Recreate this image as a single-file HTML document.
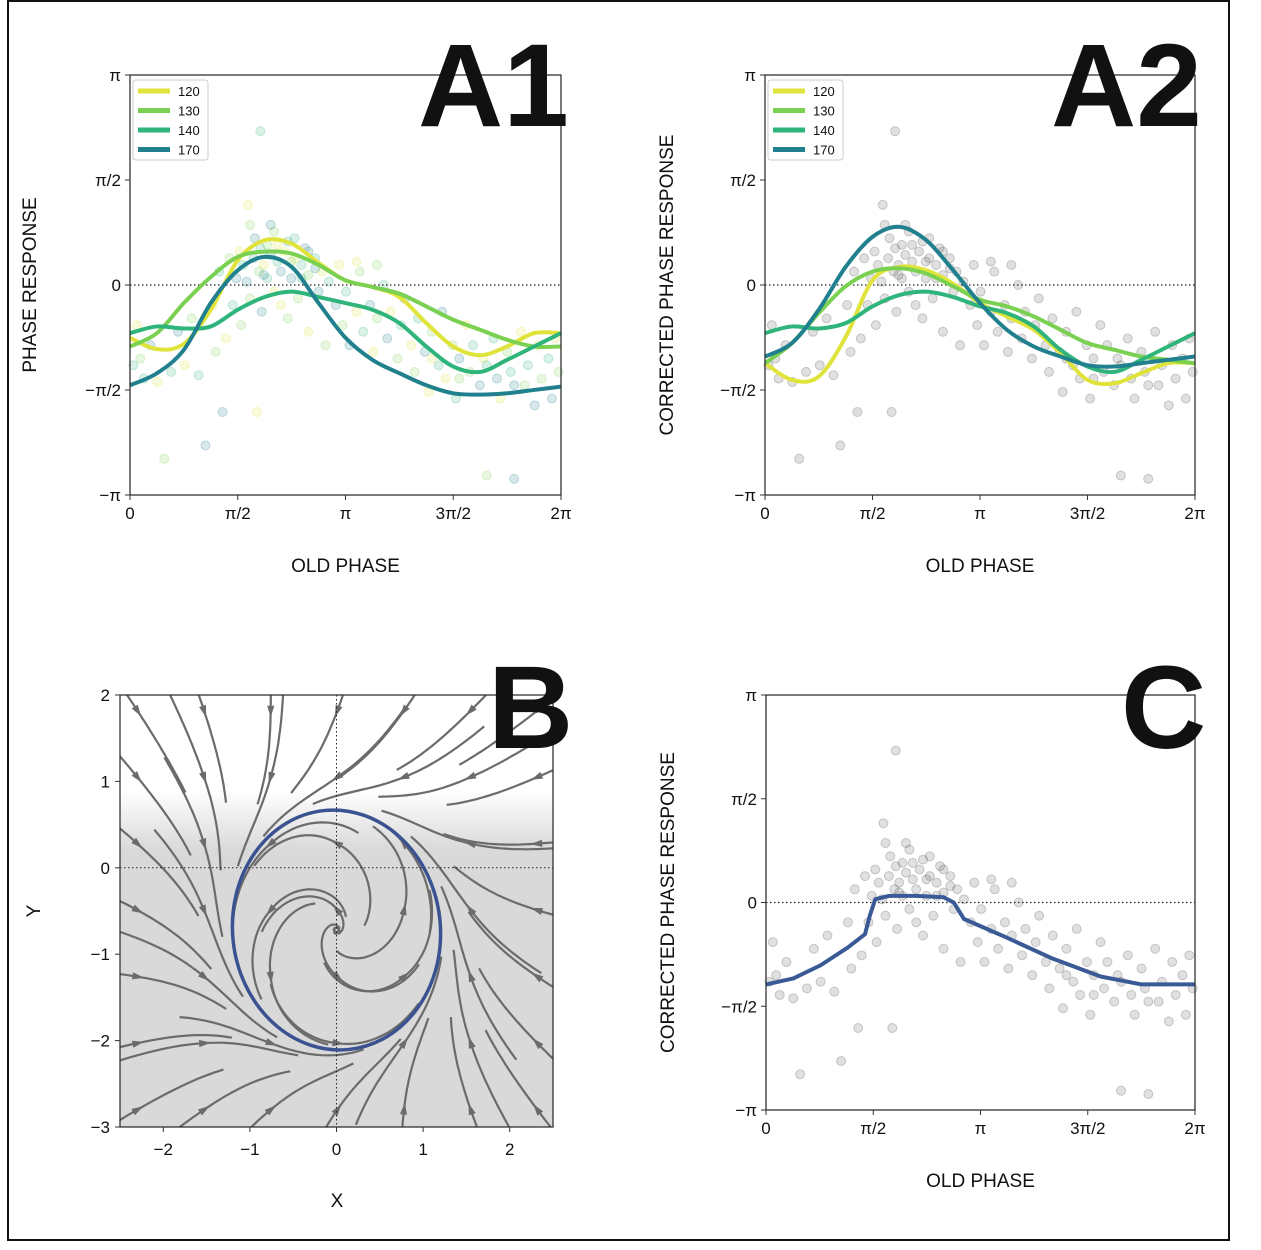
<!DOCTYPE html>
<html><head><meta charset="utf-8"><style>
body{margin:0;background:#fff;}
svg text{font-family:"Liberation Sans",sans-serif;fill:#111;}
</style></head><body>
<svg id="fig" width="1261" height="1245" viewBox="0 0 1261 1245" xmlns="http://www.w3.org/2000/svg">
<defs>
<clipPath id="clipB"><rect x="120" y="695" width="433" height="432"/></clipPath>
<linearGradient id="gB" x1="0" y1="0" x2="0" y2="1"><stop offset="0" stop-color="#fff"/><stop offset="1" stop-color="#d9d9d9"/></linearGradient>
</defs>
<rect x="8" y="1" width="1221" height="1239" fill="none" stroke="#111" stroke-width="2"/>
<g id="root"></g>
</svg>
<script>
const K = [0,1,2,3,4,5,6,7,8,9,10,11,12,13,14,15,16]; // x grid in units of pi/8
const a1_120 = [-0.79,-0.96,-0.88,-0.37,0.37,0.67,0.62,0.33,0.07,-0.03,-0.18,-0.57,-0.92,-1.05,-0.92,-0.72,-0.72];
const a1_130 = [-0.92,-0.72,-0.27,0.12,0.42,0.50,0.47,0.30,0.07,-0.03,-0.13,-0.32,-0.52,-0.67,-0.82,-0.92,-0.92];
const a1_140 = [-0.72,-0.62,-0.65,-0.62,-0.37,-0.18,-0.10,-0.18,-0.27,-0.37,-0.57,-0.92,-1.22,-1.30,-1.12,-0.92,-0.72];
const a1_170 = [-1.50,-1.32,-0.97,-0.27,0.22,0.42,0.27,-0.27,-0.79,-1.12,-1.32,-1.50,-1.62,-1.64,-1.62,-1.57,-1.52];
const a2_120 = [-1.17,-1.42,-1.37,-0.78,0.07,0.27,0.22,0.02,-0.27,-0.47,-0.67,-1.02,-1.42,-1.47,-1.32,-1.17,-1.17];
const a2_130 = [-1.17,-0.87,-0.42,-0.02,0.20,0.25,0.17,-0.02,-0.22,-0.32,-0.47,-0.67,-0.87,-0.97,-1.07,-1.12,-1.17];
const a2_140 = [-0.72,-0.62,-0.65,-0.57,-0.32,-0.15,-0.10,-0.18,-0.32,-0.42,-0.62,-0.97,-1.22,-1.30,-1.12,-0.92,-0.72];
const a2_170 = [-1.07,-0.87,-0.37,0.27,0.72,0.87,0.67,0.22,-0.27,-0.67,-0.92,-1.07,-1.20,-1.22,-1.17,-1.12,-1.07];
const cX = [0,0.4,0.8,1.2,1.45,1.52,1.6,1.8,2.2,2.6,2.75,2.9,3.5,4.2,4.9,5.5,6.28];
const cY = [-1.24,-1.15,-0.95,-0.68,-0.48,-0.2,0.05,0.1,0.1,0.08,0,-0.25,-0.52,-0.85,-1.12,-1.24,-1.24];
const seriesNames = ["120","130","140","170"];
const seriesColors = ["#dfe33a","#7ad151","#2fb47c","#21808d"];
const pts = [[0.1,-0.6],[0.15,-1.1],[0.2,-1.4],[0.3,-0.9],[0.4,-1.45],[0.5,-2.6],[0.6,-1.3],[0.7,-0.7],[0.8,-1.2],[0.9,-0.5],[1.0,-1.35],[1.1,-2.4],[1.2,-0.3],[1.25,-1.0],[1.3,0.2],[1.35,-1.9],[1.4,-0.8],[1.45,0.4],[1.5,-0.3],[1.55,0.1],[1.6,0.5],[1.62,-0.6],[1.65,0.3],[1.7,0.05],[1.72,1.2],[1.75,-0.2],[1.8,0.4],[1.82,0.7],[1.85,-1.9],[1.88,0.2],[1.9,0.55],[1.92,-0.4],[1.95,0.3],[2.0,0.6],[2.0,0.1],[2.05,0.45],[2.1,-0.1],[2.1,0.8],[2.15,0.35],[2.2,0.2],[2.25,0.5],[2.3,-0.5],[2.3,0.65],[2.35,0.1],[2.4,0.4],[2.45,-0.2],[2.5,0.3],[2.55,0.55],[2.6,-0.7],[2.6,0.15],[2.7,0.4],[2.75,-0.1],[2.8,0.2],[2.85,-0.9],[2.9,0.05],[3.0,-0.3],[3.05,0.3],[3.1,-0.6],[3.15,-0.1],[3.2,-0.9],[3.3,-0.4],[3.35,0.2],[3.4,-0.7],[3.5,-0.3],[3.55,-1.0],[3.6,-0.5],[3.7,0.0],[3.75,-0.8],[3.8,-0.4],[3.9,-1.1],[3.95,-0.6],[4.0,-0.2],[4.1,-0.9],[4.15,-1.3],[4.2,-0.5],[4.3,-1.0],[4.35,-1.6],[4.4,-0.7],[4.5,-1.2],[4.55,-0.4],[4.6,-1.4],[4.7,-0.9],[4.75,-1.7],[4.8,-1.1],[4.9,-0.6],[4.95,-1.3],[5.0,-0.9],[5.1,-1.5],[5.15,-1.1],[5.2,-2.85],[5.3,-0.8],[5.35,-1.4],[5.4,-1.7],[5.5,-1.0],[5.55,-1.3],[5.6,-2.9],[5.7,-0.7],[5.75,-1.5],[5.8,-1.2],[5.9,-1.8],[5.95,-0.9],[6.0,-1.4],[6.1,-1.1],[6.15,-1.7],[6.2,-0.8],[6.25,-1.3],[1.9,2.3],[2.05,0.9],[2.2,-0.3],[1.75,0.9],[2.4,0.7],[2.6,0.5],[3.3,0.35],[3.6,0.3],[0.05,-1.2],[1.95,0.15],[2.15,0.6],[2.35,0.35],[2.5,0.1],[2.7,0.25],[4.4,-1.1],[4.8,-1.4],[5.2,-1.2],[5.6,-1.5]];
const phaseTicks = ["0","π/2","π","3π/2","2π"];
const yPhaseTicks = ["−π","−π/2","0","π/2","π"];
const bXTicks = [-2,-1,0,1,2];
const bYTicks = [-3,-2,-1,0,1,2];

const NS="http://www.w3.org/2000/svg";
const root=document.getElementById('root');
function mk(tag,attrs,parent){const e=document.createElementNS(NS,tag);for(const k in attrs)e.setAttribute(k,attrs[k]);(parent||root).appendChild(e);return e;}
function txt(s,x,y,attrs,parent){const e=mk('text',Object.assign({x:x,y:y},attrs),parent);e.textContent=s;return e;}
function spline(P){let d=`M${P[0][0]},${P[0][1]}`;for(let i=0;i<P.length-1;i++){const p0=P[Math.max(i-1,0)],p1=P[i],p2=P[i+1],p3=P[Math.min(i+2,P.length-1)];d+=` C${p1[0]+(p2[0]-p0[0])/6},${p1[1]+(p2[1]-p0[1])/6} ${p2[0]-(p3[0]-p1[0])/6},${p2[1]-(p3[1]-p1[1])/6} ${p2[0]},${p2[1]}`;}return d;}
const PI=Math.PI;

function phasePanel(id,x0,x1,y0,y1,ytitle,series,scatterMode,legend){
  const g=mk('g',{});
  
  
  const sx=v=>x0+(v/(2*PI))*(x1-x0), sy=v=>y0+(PI-v)/(2*PI)*(y1-y0);
  pts.forEach((p,i)=>{
    const c=mk('circle',{cx:sx(p[0]),cy:sy(p[1]),r:4.5,fill:scatterMode==='color'?seriesColors[i%4]:'#555','fill-opacity':0.18,stroke:scatterMode==='color'?seriesColors[i%4]:'#444','stroke-opacity':0.25},g);
    
    
  });
  const z=mk('line',{x1:x0,x2:x1,y1:sy(0),y2:sy(0),stroke:'#222','stroke-dasharray':'1.5,2.5','stroke-width':1.2},g);
  
  
  series.forEach((s,j)=>{
    const P=s.x.map((xv,i)=>[sx(xv),sy(s.y[i])]);
    const p=mk('path',{d:s.linear?'M'+P.map(q=>q.join(',')).join(' L'):spline(P),fill:'none',stroke:s.color,'stroke-width':4,'stroke-linejoin':'round'},g);
    
    
  });
  const fr=mk('rect',{x:x0,y:y0,width:x1-x0,height:y1-y0,fill:'none',stroke:'#333','stroke-width':1.3},g);
  
  
  phaseTicks.forEach((t,i)=>{const x=x0+i*(x1-x0)/4;mk('line',{x1:x,x2:x,y1:y1,y2:y1+5,stroke:'#333'},g);const e=txt(t,x,y1+24,{'font-size':17,'text-anchor':'middle'},g);});
  yPhaseTicks.forEach((t,i)=>{const y=y1-i*(y1-y0)/4;mk('line',{x1:x0-5,x2:x0,y1:y,y2:y,stroke:'#333'},g);const e=txt(t,x0-9,y+6,{'font-size':17,'text-anchor':'end'},g);});
  const xt=txt('OLD PHASE',(x0+x1)/2,y1+77,{'font-size':19,'text-anchor':'middle'},g);
  
  
  const yc=(y0+y1)/2, yx=x0-(id==='A1'?94:92);
  const yt=txt(ytitle,yx,yc,{'font-size':19,'text-anchor':'middle',transform:`rotate(-90 ${yx} ${yc})`},g);
  
  
  if(legend){
    const lg=mk('g',{},g);
    
    
    mk('rect',{x:x0+3,y:y0+5,width:75,height:80,fill:'#fff','fill-opacity':0.85,stroke:'#ccc',rx:3},lg);
    seriesNames.forEach((n,i)=>{const y=y0+16+i*19.5;const e=mk('g',{},lg);mk('line',{x1:x0+8,x2:x0+40,y1:y,y2:y,stroke:seriesColors[i],'stroke-width':5},e);txt(n,x0+48,y+5,{'font-size':13},e);});
  }
}
function mkSeries(arrs){return arrs.map((a,i)=>({name:'curve-'+seriesNames[i],x:K.map(k=>k*PI/8),y:a,color:seriesColors[i]}));}
phasePanel('A1',130,561,75,495,'PHASE RESPONSE',mkSeries([a1_120,a1_130,a1_140,a1_170]),'color',true);
phasePanel('A2',765,1195,75,495,'CORRECTED PHASE RESPONSE',mkSeries([a2_120,a2_130,a2_140,a2_170]),'gray',true);
phasePanel('C',766,1195,695,1110,'CORRECTED PHASE RESPONSE',[{name:'model-curve',x:cX,y:cY,color:'#3a5a96',linear:true}],'gray',false);

// Panel B
(function(){
  const x0=120,x1=553,y0=695,y1=1127;
  const sx=v=>x0+(v+2.5)/5*(x1-x0), sy=v=>y0+(2-v)/5*(y1-y0);
  const g=mk('g',{});
  
  
  const bg=mk('rect',{x:x0,y:sy(0.9),width:x1-x0,height:sy(0.2)-sy(0.9),fill:'url(#gB)'},g);
  
  
  mk('rect',{x:x0,y:sy(0.2),width:x1-x0,height:y1-sy(0.2),fill:'#d9d9d9'},g);
  const cx=0,cy=-0.72,rx=1.2,ry=1.39;
  function f(x,y){const u=(x-cx)/rx,v=(y-cy)/ry,r2=u*u+v*v;return [(u*(1-r2)-v)*rx,(v*(1-r2)+u)*ry];}
  const sg=mk('g',{'clip-path':'url(#clipB)'},g);
  
  
  for(let i=0;i<7;i++)for(let j=0;j<7;j++){
    const X=-2.3+i*0.77,Y=-2.8+j*0.77;
    const trace=dir=>{let x=X,y=Y,P=[];for(let s=0;s<22;s++){const d=f(x,y);const m=Math.hypot(d[0],d[1])||1;x+=dir*0.05*d[0]/m;y+=dir*0.05*d[1]/m;if(x<-2.6||x>2.6||y<-3.1||y>2.1)break;P.push([sx(x),sy(y)]);}return P;};
    const back=trace(-1).reverse(),fwd=trace(1);const P=back.concat([[sx(X),sy(Y)]],fwd);
    if(P.length<3)continue;
    const l=mk('path',{d:'M'+P.map(q=>q[0].toFixed(1)+','+q[1].toFixed(1)).join(' L'),fill:'none',stroke:'#6b6b6b','stroke-width':2.2},sg);
    
    
    const d=f(X,Y);const a=Math.atan2(-d[1],d[0]);const px=sx(X),py=sy(Y);
    const ar=mk('polygon',{points:`${px+7*Math.cos(a)},${py+7*Math.sin(a)} ${px+6*Math.cos(a+2.5)},${py+6*Math.sin(a+2.5)} ${px+6*Math.cos(a-2.5)},${py+6*Math.sin(a-2.5)}`,fill:'#6b6b6b'},sg);
    
    
  }
  mk('line',{x1:sx(0),x2:sx(0),y1:y0,y2:y1,stroke:'#222','stroke-dasharray':'1.5,2.5'},g);
  mk('line',{x1:x0,x2:x1,y1:sy(0),y2:sy(0),stroke:'#222','stroke-dasharray':'1.5,2.5'},g);
  const lc=mk('ellipse',{cx:sx(cx),cy:sy(cy),rx:rx*(x1-x0)/5,ry:ry*(y1-y0)/5,fill:'none',stroke:'#3a5290','stroke-width':3.5,transform:`rotate(-6 ${sx(cx)} ${sy(cy)})`},g);
  
  
  mk('rect',{x:x0,y:y0,width:x1-x0,height:y1-y0,fill:'none',stroke:'#333','stroke-width':1.3},g);
  bXTicks.forEach(t=>{const x=sx(t);mk('line',{x1:x,x2:x,y1:y1,y2:y1+5,stroke:'#333'},g);const e=txt(t<0?'−'+(-t):String(t),x,y1+28,{'font-size':17,'text-anchor':'middle'},g);});
  bYTicks.forEach(t=>{const y=sy(t);mk('line',{x1:x0-5,x2:x0,y1:y,y2:y,stroke:'#333'},g);const e=txt(t<0?'−'+(-t):String(t),x0-10,y+6,{'font-size':17,'text-anchor':'end'},g);});
  const xt=txt('X',337,1207,{'font-size':19,'text-anchor':'middle'},g);
  
  
  const yt=txt('Y',40,911,{'font-size':19,'text-anchor':'middle',transform:'rotate(-90 40 911)'},g);
  
  
})();

[['A1',418,126],['A2',1051,126],['B',488,748],['C',1121,748]].forEach(l=>{
  const e=txt(l[0],l[1],l[2],{'font-size':118,'font-weight':'bold',fill:'#000'});
  
  
});
</script>
</body></html>
